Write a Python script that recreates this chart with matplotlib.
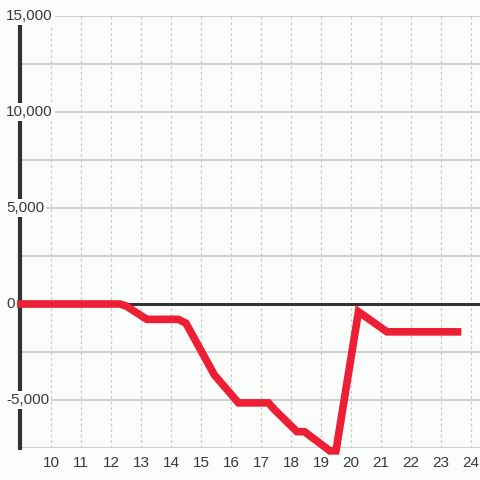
import matplotlib.pyplot as plt
from matplotlib.ticker import FixedLocator, NullFormatter

# values
xs = [9.0, 12.3, 12.5, 13.2, 14.25, 14.5, 15.45, 16.25, 17.25, 17.45, 18.2, 18.45, 19.3, 19.5, 20.25, 21.2, 23.55]
ys = [0, 0, -100, -800, -800, -1000, -3700, -5150, -5150, -5500, -6650, -6650, -7650, -7650, -400, -1450, -1450]

x_ticks = list(range(10, 25))
y_ticks = [15000, 10000, 5000, 0, -5000]
y_grid = [15000, 12500, 10000, 7500, 5000, 2500, -2500, -5000, -7500]

bg = "#fbfdfb"
plt.rcParams['font.family'] = ['Liberation Sans', 'DejaVu Sans']

fig = plt.figure(figsize=(4.8, 4.8), dpi=100, facecolor=bg)
ax = fig.add_axes([20 / 480, 32 / 480, 460 / 480, 432 / 480])
ax.set_facecolor(bg)
ax.set_xlim(8.97, 24.3)
ax.set_ylim(-7500, 15000)

for s in ["top", "right", "bottom"]:
    ax.spines[s].set_visible(False)
ax.spines["left"].set_linewidth(3)
ax.spines["left"].set_color("#333333")
ax.spines["left"].set_zorder(2)

for v in y_grid:
    ax.axhline(v, color="#c8c8c8", lw=1.2, zorder=1)
for v in x_ticks:
    ax.axvline(v, color="#c8c8c8", lw=0.9, ls=(0, (2.2, 2.2)), zorder=1)
ax.axhline(0, color="#333333", lw=2.2, zorder=2)

ax.plot(xs, ys, color="#ed1f35", lw=5.5, solid_joinstyle="miter", zorder=3, clip_on=False)

ax.xaxis.set_major_locator(FixedLocator(x_ticks))
ax.tick_params(axis="x", length=0, pad=6, labelsize=11, labelcolor="#3a3a3a")
ax.yaxis.set_major_locator(FixedLocator([]))
ax.yaxis.set_major_formatter(NullFormatter())
ax.tick_params(axis="y", length=0)

for v in y_ticks:
    ax.text(-14 / 460, v, f"{v:,}", transform=ax.get_yaxis_transform(),
            ha="left", va="center", fontsize=11, color="#3a3a3a", zorder=5,
            bbox=dict(boxstyle="square,pad=0.15", fc=bg, ec="none"), clip_on=False)

fig.savefig("out.png", dpi=100, facecolor=bg)
